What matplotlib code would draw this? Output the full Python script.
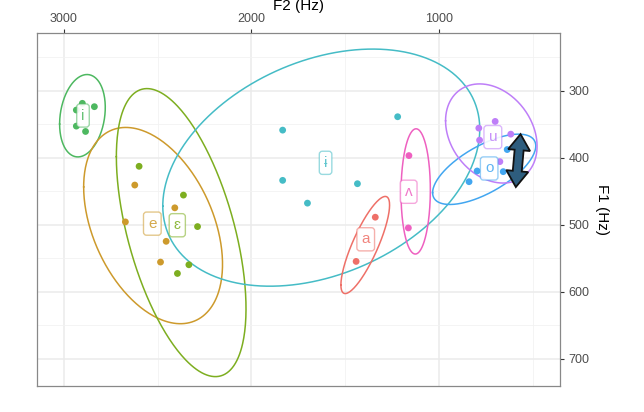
import numpy as np
import matplotlib
matplotlib.use("Agg")
import matplotlib.pyplot as plt
from matplotlib.patches import Polygon
from matplotlib.colors import to_rgba

plt.rcParams['font.family'] = ['Liberation Sans', 'DejaVu Sans']

# ---- data ----
vowels = ['i', 'e', 'ɛ', 'ɨ', 'a', 'ʌ', 'o', 'u']
colors = ['#4DB860', '#CD9A2C', '#7DAE20', '#45BCC6', '#EE7068', '#EE60C0', '#42A6F0', '#BE7EF8']

f2_i = [2900, 2932, 2836, 2932, 2883]; f1_i = [319, 329, 324, 353, 361]
f2_e = [2621, 2408, 2671, 2454, 2484]; f1_e = [441, 475, 496, 525, 556]
f2_eps = [2598, 2362, 2287, 2333, 2394]; f1_eps = [413, 456, 503, 560, 573]
f2_ib = [1834, 1834, 1702, 1436, 1222]; f1_ib = [359, 434, 468, 439, 339]
f2_a = [1341, 1443]; f1_a = [489, 555]
f2_v = [1162, 1165]; f1_v = [397, 505]
f2_o = [842, 799, 639, 660]; f1_o = [436, 420, 388, 421]
f2_u = [790, 703, 620, 786, 678]; f1_u = [356, 346, 365, 374, 406]

F2 = [f2_i, f2_e, f2_eps, f2_ib, f2_a, f2_v, f2_o, f2_u]
F1 = [f1_i, f1_e, f1_eps, f1_ib, f1_a, f1_v, f1_o, f1_u]

# ellipse extents (Hz)
ell_f2_min = [2778, 2154, 2029, 785, 1265, 1048, 487, 480]
ell_f2_max = [3021, 2893, 2719, 2472, 1524, 1204, 1036, 967]
ell_f1_min = [276, 355, 297, 238, 458, 357, 365, 290]
ell_f1_max = [399, 648, 727, 592, 603, 544, 470, 438]
ell_f2_at_f1max = [2924, 2378, 2192, 1902, 1501, 1128, 944, 661]

# arrow annotation (Hz)
arrow_f2 = [568, 593]
arrow_f1 = [365, 444]

xlim = (3144, 358)
ylim = (741, 214)

# ---- figure ----
W, H, DPI = 644, 412, 100
fig = plt.figure(figsize=(W / DPI, H / DPI), dpi=DPI)
ax = fig.add_axes([36.5 / W, 1 - 386 / H, (560 - 36.5) / W, (386 - 33) / H])
ax.set_xlim(*xlim)
ax.set_ylim(*ylim)

ax.set_xticks([3000, 2000, 1000])
ax.set_xticks([2500, 1500, 500], minor=True)
ax.set_yticks([300, 400, 500, 600, 700])
ax.set_yticks([250, 350, 450, 550, 650], minor=True)
ax.grid(True, which='major', color='#EBEBEB', lw=1.1)
ax.grid(True, which='minor', color='#F2F2F2', lw=0.6)
ax.set_axisbelow(True)

ax.xaxis.set_label_position('top')
ax.xaxis.tick_top()
ax.yaxis.set_label_position('right')
ax.yaxis.tick_right()
ax.tick_params(which='major', length=3, color='#333333', labelsize=9, labelcolor='#4D4D4D', pad=3)
ax.tick_params(which='minor', length=0)
for s in ax.spines.values():
    s.set_color('#888888')
    s.set_linewidth(0.9)

ax.set_xlabel('F2 (Hz)', fontsize=11, labelpad=2)
ax.set_ylabel('F1 (Hz)', fontsize=11, rotation=-90, labelpad=14)

t = np.linspace(0, 2 * np.pi, 300)
for k, v in enumerate(vowels):
    c2 = (ell_f2_min[k] + ell_f2_max[k]) / 2
    a2 = (ell_f2_max[k] - ell_f2_min[k]) / 2
    c1 = (ell_f1_min[k] + ell_f1_max[k]) / 2
    a1 = (ell_f1_max[k] - ell_f1_min[k]) / 2
    phi = np.arccos(np.clip((ell_f2_at_f1max[k] - c2) / a2, -1, 1))
    ax.plot(c2 + a2 * np.cos(t), c1 + a1 * np.cos(t - phi), color=colors[k], lw=1.1, zorder=2)

for k, v in enumerate(vowels):
    ax.scatter(F2[k], F1[k], s=24, color=colors[k], edgecolors='none', zorder=3)

for k, v in enumerate(vowels):
    mx, my = np.mean(F2[k]), np.mean(F1[k])
    ax.text(mx, my, v, ha='center', va='center', fontsize=11,
            color=to_rgba(colors[k], 0.85), zorder=4,
            bbox=dict(boxstyle='round,pad=0.3,rounding_size=0.2',
                      fc=(1, 1, 1, 0.9), ec=to_rgba(colors[k], 0.55), lw=1.0))

# double-headed arrow built in display space
fig.canvas.draw()
p0 = ax.transData.transform((arrow_f2[0], arrow_f1[0]))
p1 = ax.transData.transform((arrow_f2[1], arrow_f1[1]))
d = p1 - p0
L = np.hypot(*d)
u = d / L
n = np.array([-u[1], u[0]])
hl, hw, sw = 16, 11, 4.5
pts = [p0,
       p0 + u * hl + n * hw, p0 + u * hl + n * sw,
       p1 - u * hl + n * sw, p1 - u * hl + n * hw,
       p1,
       p1 - u * hl - n * hw, p1 - u * hl - n * sw,
       p0 + u * hl - n * sw, p0 + u * hl - n * hw]
poly = Polygon(np.array(pts), closed=True, transform=None, fc='#2E5D7E', ec='#111111', lw=1.3, zorder=5)
ax.add_artist(poly)

fig.savefig('out.png', dpi=DPI)
